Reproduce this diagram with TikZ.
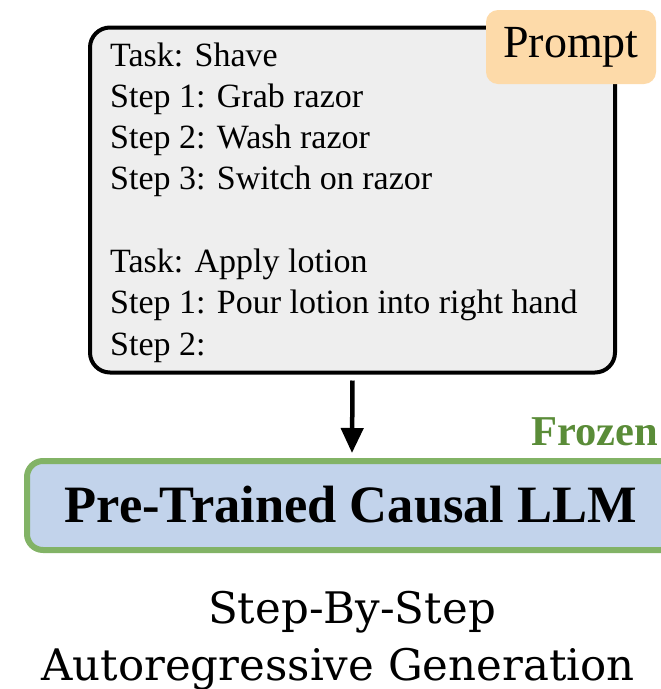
\documentclass[tikz,border=0pt]{standalone}
\usepackage{fontspec}
\setmainfont{Liberation Serif}
\newfontfamily\captionfont{DejaVu Serif}
\usetikzlibrary{arrows.meta}
\definecolor{promptgray}{HTML}{EEEEEE}
\definecolor{tagorange}{HTML}{FDDAA9}
\definecolor{llmblue}{HTML}{C2D3EB}
\definecolor{llmgreen}{HTML}{82B366}
\definecolor{frozengreen}{HTML}{5A8C38}
\tikzset{
  promptbox/.style={draw=black, line width=4pt, fill=promptgray, rounded corners=20pt,
    minimum width=525pt, minimum height=345pt, inner sep=0pt, outer sep=0pt},
  tagbox/.style={fill=tagorange, rounded corners=12pt, minimum width=170pt,
    minimum height=74pt, inner sep=0pt, font=\fontsize{46}{50}\selectfont},
  llmbox/.style={draw=llmgreen, line width=6pt, fill=llmblue, rounded corners=16pt,
    minimum width=650pt, minimum height=89pt, inner sep=0pt, outer sep=0pt},
  promptline/.style={anchor=base west, inner sep=0pt, font=\fontsize{34}{41}\selectfont},
  captionline/.style={anchor=base, inner sep=0pt, font=\captionfont\fontsize{43.5}{48}\selectfont},
  flowarrow/.style={line width=4.5pt, -{Triangle[length=25pt,width=22pt]}},
}
\begin{document}
\begin{tikzpicture}[x=1pt,y=-1pt]
\useasboundingbox (0,0) rectangle (661,689);
\begin{scope}
\clip (0,0) rectangle (661,689);

% prompt container
\node[promptbox] (prompt) at (352.5,200) {};

% prompt text, one line per node
\foreach \txt [count=\i] in {Task: Shave, Step 1: Grab razor, Step 2: Wash razor,
    Step 3: Switch on razor, {}, Task: Apply lotion,
    Step 1: Pour lotion into right hand, Step 2:}
  \node[promptline] (line\i) at (110, {66 + (\i-1)*41.3}) {\txt};

% tag in the top-right corner
\node[tagbox] (tag) at (571,47) {Prompt};

% frozen language model
\node[llmbox] (llm) at (352,505.5) {};
\node[anchor=base, inner sep=0pt, font=\fontsize{52.5}{56}\selectfont\bfseries]
  (llmtext) at (351,522) {Pre-Trained Causal LLM};
\node[anchor=base east, inner sep=0pt, text=frozengreen,
  font=\fontsize{42.5}{46}\selectfont\bfseries] (frozen) at (658,445) {Frozen};

\draw[flowarrow] ([yshift=-8pt]prompt.south) -- ([yshift=8pt]llm.north);
\end{scope}

% caption below
\node[captionline] (cap1) at (352,623) {Step-By-Step};
\node[captionline] (cap2) at (338,680) {Autoregressive Generation};
\end{tikzpicture}
\end{document}
